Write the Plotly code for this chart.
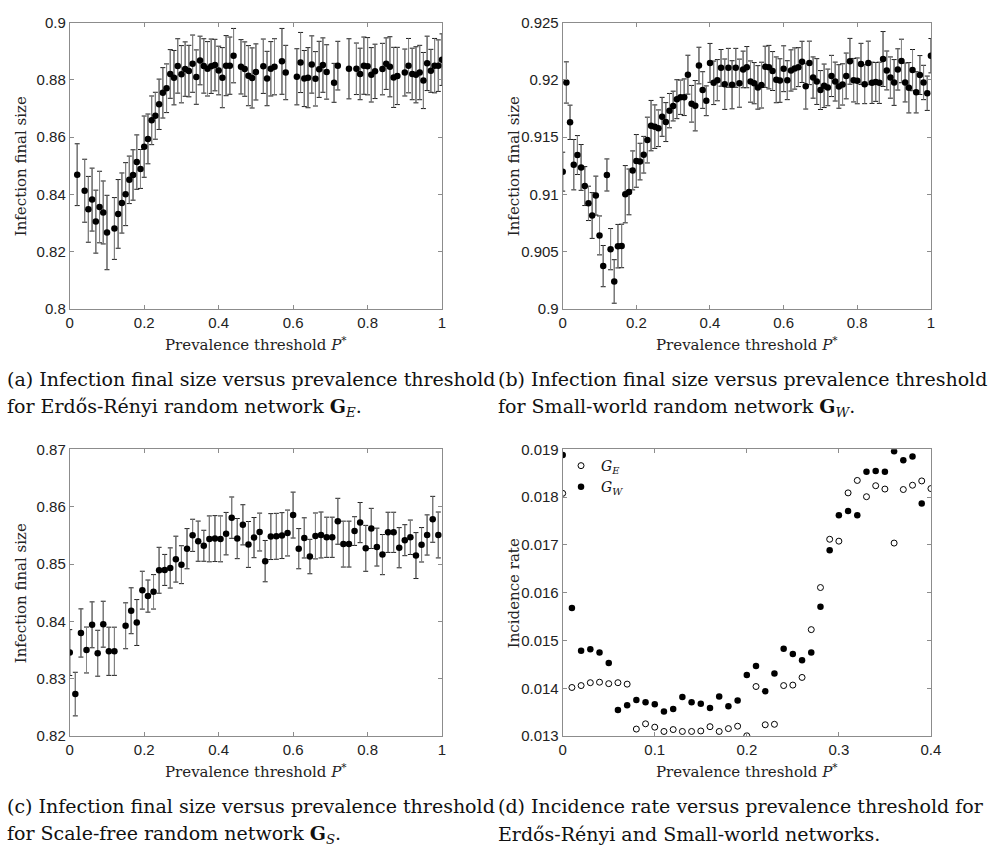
import plotly.graph_objects as go

# ---------------- data ----------------
# (a) Erdos-Renyi
xa = [0.02, 0.04, 0.05, 0.06, 0.07, 0.08, 0.09, 0.10, 0.12, 0.13, 0.14, 0.15, 0.16, 0.17, 0.18, 0.19,
      0.20, 0.21, 0.22, 0.23, 0.24, 0.25, 0.26, 0.27, 0.28, 0.29, 0.30, 0.31, 0.32, 0.33, 0.34, 0.35,
      0.36, 0.37, 0.38, 0.39, 0.40, 0.41, 0.42, 0.43, 0.44, 0.46, 0.47, 0.48, 0.49, 0.50, 0.52, 0.53,
      0.54, 0.55, 0.57, 0.58, 0.61, 0.62, 0.63, 0.64, 0.65, 0.66, 0.67, 0.68, 0.69, 0.71, 0.72, 0.75,
      0.77, 0.78, 0.79, 0.80, 0.81, 0.82, 0.84, 0.85, 0.86, 0.87, 0.88, 0.90, 0.91, 0.92, 0.93, 0.94,
      0.95, 0.96, 0.97, 0.98, 0.99, 1.00]
ya = [0.8469, 0.8413, 0.8348, 0.8382, 0.8305, 0.8356, 0.8337, 0.8267, 0.8281, 0.8332, 0.8370, 0.8401,
      0.8451, 0.8468, 0.8513, 0.8489, 0.8567, 0.8594, 0.8659, 0.8675, 0.8715, 0.8755, 0.8771, 0.8821,
      0.8808, 0.8849, 0.8820, 0.8838, 0.8831, 0.8857, 0.8810, 0.8868, 0.8849, 0.8839, 0.8848, 0.8852,
      0.8833, 0.8808, 0.8850, 0.8850, 0.8885, 0.8846, 0.8838, 0.8815, 0.8807, 0.8828, 0.8848, 0.8805,
      0.8839, 0.8846, 0.8865, 0.8826, 0.8811, 0.8861, 0.8805, 0.8808, 0.8854, 0.8804, 0.8837, 0.8852,
      0.8828, 0.8790, 0.8850, 0.8839, 0.8839, 0.8821, 0.8850, 0.8848, 0.8818, 0.8830, 0.8838, 0.8857,
      0.8846, 0.8809, 0.8814, 0.8826, 0.8850, 0.8821, 0.8818, 0.8826, 0.8798, 0.8858, 0.8832, 0.8850,
      0.8850, 0.8871]
ea = [0.0108, 0.0110, 0.0115, 0.0110, 0.0110, 0.0125, 0.0110, 0.0130, 0.0108, 0.0120, 0.0105, 0.0110,
      0.0083, 0.0088, 0.0095, 0.0068, 0.0107, 0.0087, 0.0085, 0.0082, 0.0088, 0.0088, 0.0085, 0.0085,
      0.0095, 0.0095, 0.0100, 0.0095, 0.0090, 0.0100, 0.0095, 0.0085, 0.0095, 0.0095, 0.0095, 0.0090,
      0.0085, 0.0105, 0.0105, 0.0100, 0.0095, 0.0095, 0.0095, 0.0105, 0.0105, 0.0098, 0.0095, 0.0095,
      0.0095, 0.0098, 0.0115, 0.0095, 0.0098, 0.0105, 0.0098, 0.0105, 0.0100, 0.0095, 0.0098, 0.0095,
      0.0095, 0.0068, 0.0085, 0.0105, 0.0090, 0.0090, 0.0100, 0.0100, 0.0095, 0.0095, 0.0090, 0.0090,
      0.0105, 0.0105, 0.0100, 0.0082, 0.0095, 0.0090, 0.0098, 0.0095, 0.0098, 0.0095, 0.0075, 0.0095,
      0.0090, 0.0090]

# (b) Small-world
xb = [round(0.01 * i, 2) for i in range(101)]
yb = [0.91199, 0.91978, 0.91630, 0.91260, 0.91344, 0.91236, 0.91073, 0.90922, 0.90816, 0.90990,
      0.90642, 0.90374, 0.91170, 0.90522, 0.90240, 0.90548, 0.90550, 0.91002, 0.91022, 0.91210,
      0.91293, 0.91287, 0.91347, 0.91475, 0.91601, 0.91592, 0.91578, 0.91678, 0.91632, 0.91732,
      0.91772, 0.91832, 0.91849, 0.91849, 0.92046, 0.91792, 0.91775, 0.92126, 0.91912, 0.91818,
      0.92149, 0.91975, 0.91998, 0.92106, 0.91963, 0.92106, 0.91958, 0.92106, 0.91972, 0.92092,
      0.92112, 0.91986, 0.91972, 0.91935, 0.91955, 0.92115, 0.92112, 0.92078, 0.92001, 0.91995,
      0.92098, 0.91998, 0.92083, 0.92100, 0.92112, 0.92158, 0.91946, 0.92149, 0.92021, 0.91986,
      0.91912, 0.91949, 0.91935, 0.92035, 0.91986, 0.91943, 0.91961, 0.92035, 0.92163, 0.91998,
      0.91992, 0.92140, 0.91963, 0.92149, 0.91975, 0.91983, 0.91975, 0.92183, 0.92083, 0.92021,
      0.91978, 0.92092, 0.92166, 0.91978, 0.91932, 0.92086, 0.91892, 0.92043, 0.91978, 0.91884,
      0.92212]
eb = [0.0017, 0.0018, 0.0015, 0.0022, 0.0017, 0.0020, 0.0017, 0.0015, 0.0020, 0.0017,
      0.0017, 0.0018, 0.0014, 0.0018, 0.0019, 0.0019, 0.0019, 0.0025, 0.0020, 0.0017,
      0.0023, 0.0016, 0.0016, 0.0020, 0.0022, 0.0019, 0.0016, 0.0017, 0.0017, 0.0015,
      0.0013, 0.0017, 0.0015, 0.0016, 0.0017, 0.0016, 0.0022, 0.0016, 0.0016, 0.0013,
      0.0017, 0.0019, 0.0018, 0.0016, 0.0022, 0.0017, 0.0021, 0.0017, 0.0021, 0.0016,
      0.0018, 0.0018, 0.0018, 0.0019, 0.0020, 0.0018, 0.0019, 0.0017, 0.0020, 0.0019,
      0.0020, 0.0017, 0.0018, 0.0018, 0.0017, 0.0018, 0.0020, 0.0019, 0.0018, 0.0020,
      0.0017, 0.0019, 0.0016, 0.0018, 0.0017, 0.0019, 0.0018, 0.0020, 0.0020, 0.0019,
      0.0020, 0.0018, 0.0017, 0.0019, 0.0018, 0.0017, 0.0018, 0.0024, 0.0017, 0.0018,
      0.0020, 0.0018, 0.0019, 0.0017, 0.0022, 0.0018, 0.0018, 0.0017, 0.0015, 0.0015,
      0.0015]

# (c) Scale-free
kc = [k for k in range(67) if k != 9]
xc = [round(0.015 * k, 3) for k in kc]
yc = [0.83458, 0.82735, 0.83800, 0.83503, 0.83942, 0.83447, 0.83953, 0.83481, 0.83481,
      0.83925, 0.84187, 0.83982, 0.84546, 0.84443, 0.84517, 0.84893, 0.84899, 0.84933, 0.85087,
      0.84990, 0.85269, 0.85502, 0.85400, 0.85320, 0.85440, 0.85445, 0.85440, 0.85531, 0.85810,
      0.85445, 0.85685, 0.85343, 0.85462, 0.85559, 0.85052, 0.85480, 0.85485, 0.85497, 0.85542,
      0.85855, 0.85269, 0.85457, 0.85132, 0.85491, 0.85508, 0.85468, 0.85468, 0.85747, 0.85349,
      0.85349, 0.85576, 0.85724, 0.85275, 0.85622, 0.85297, 0.85166, 0.85554, 0.85554, 0.85286,
      0.85417, 0.85468, 0.85149, 0.85337, 0.85508, 0.85781, 0.85508]
ec = [0.0040, 0.0038, 0.0042, 0.0040, 0.0040, 0.0040, 0.0040, 0.0042, 0.0042,
      0.0040, 0.0040, 0.0040, 0.0033, 0.0028, 0.0030, 0.0040, 0.0027, 0.0035, 0.0040,
      0.0033, 0.0035, 0.0028, 0.0035, 0.0027, 0.0040, 0.0040, 0.0040, 0.0037, 0.0036,
      0.0035, 0.0035, 0.0040, 0.0035, 0.0033, 0.0036, 0.0040, 0.0040, 0.0040, 0.0040,
      0.0040, 0.0035, 0.0035, 0.0030, 0.0040, 0.0040, 0.0035, 0.0035, 0.0040, 0.0040,
      0.0040, 0.0025, 0.0035, 0.0040, 0.0035, 0.0033, 0.0035, 0.0035, 0.0035, 0.0035,
      0.0027, 0.0030, 0.0040, 0.0030, 0.0035, 0.0040, 0.0040]

# (d) Incidence rate
xd_e = [0.00, 0.01, 0.02, 0.03, 0.04, 0.05, 0.06, 0.07, 0.08, 0.09, 0.10, 0.11, 0.12, 0.13, 0.14,
        0.15, 0.16, 0.17, 0.18, 0.19, 0.20, 0.21, 0.22, 0.23, 0.24, 0.25, 0.26, 0.27, 0.28, 0.29,
        0.30, 0.31, 0.32, 0.33, 0.34, 0.35, 0.36, 0.37, 0.38, 0.39, 0.40]
yd_e = [0.01808, 0.01402, 0.01406, 0.01412, 0.01413, 0.01410, 0.01412, 0.01409, 0.01315, 0.01326,
        0.01319, 0.01310, 0.01314, 0.01310, 0.01310, 0.01311, 0.01320, 0.01310, 0.01316, 0.01321,
        0.01301, 0.01404, 0.01324, 0.01325, 0.01406, 0.01407, 0.01423, 0.01523, 0.01611, 0.01712,
        0.01708, 0.01809, 0.01835, 0.01801, 0.01824, 0.01817, 0.01704, 0.01816, 0.01825, 0.01834,
        0.01818]
xd_w = [0.00, 0.01, 0.02, 0.03, 0.04, 0.05, 0.06, 0.07, 0.08, 0.09, 0.10, 0.11, 0.12, 0.13, 0.14,
        0.15, 0.16, 0.17, 0.18, 0.19, 0.20, 0.21, 0.22, 0.23, 0.24, 0.25, 0.26, 0.27, 0.28, 0.29,
        0.30, 0.31, 0.32, 0.33, 0.34, 0.35, 0.36, 0.37, 0.38, 0.39]
yd_w = [0.01888, 0.01568, 0.01479, 0.01482, 0.01475, 0.01453, 0.01355, 0.01365, 0.01376, 0.01371,
        0.01367, 0.01352, 0.01357, 0.01382, 0.01371, 0.01368, 0.01359, 0.01383, 0.01363, 0.01375,
        0.01428, 0.01447, 0.01394, 0.01431, 0.01483, 0.01472, 0.01459, 0.01475, 0.01571, 0.01689,
        0.01762, 0.01771, 0.01762, 0.01853, 0.01855, 0.01853, 0.01896, 0.01877, 0.01885, 0.01787]

# tick labels
x_ticks_full = [0, 0.2, 0.4, 0.6, 0.8, 1]
x_ticktext_full = ["0", "0.2", "0.4", "0.6", "0.8", "1"]
x_ticks_d = [0, 0.1, 0.2, 0.3, 0.4]
x_ticktext_d = ["0", "0.1", "0.2", "0.3", "0.4"]
ya_ticks = [0.8, 0.82, 0.84, 0.86, 0.88, 0.9]
ya_text = ["0.8", "0.82", "0.84", "0.86", "0.88", "0.9"]
yb_ticks = [0.9, 0.905, 0.91, 0.915, 0.92, 0.925]
yb_text = ["0.9", "0.905", "0.91", "0.915", "0.92", "0.925"]
yc_ticks = [0.82, 0.83, 0.84, 0.85, 0.86, 0.87]
yc_text = ["0.82", "0.83", "0.84", "0.85", "0.86", "0.87"]
yd_ticks = [0.013, 0.014, 0.015, 0.016, 0.017, 0.018, 0.019]
yd_text = ["0.013", "0.014", "0.015", "0.016", "0.017", "0.018", "0.019"]

# ---------------- figure ----------------
W, H = 992, 855
fig = go.Figure()

def px_x(p):
    return p / W

def px_y(p):
    return (H - p) / H

LEFT = [px_x(66.7), px_x(444.3)]
RIGHT = [px_x(566.7), px_x(940.2)]
TOP = [px_y(306), px_y(14)]
BOT = [px_y(742), px_y(449.3)]

CAP = "#1a1a1a"
STEM = "#8a8a8a"

def add_err(x, y, e, xa_, ya_):
    # caps (dark)
    fig.add_trace(go.Scatter(x=x, y=y, mode="markers", xaxis=xa_, yaxis=ya_,
                             marker=dict(size=2, opacity=0), showlegend=False, hoverinfo="skip",
                             error_y=dict(type="data", array=e, visible=True, color=CAP,
                                          thickness=1, width=2.5)))
    # stems (gray) + markers
    fig.add_trace(go.Scatter(x=x, y=y, mode="markers", xaxis=xa_, yaxis=ya_,
                             marker=dict(size=6.5, color="black"), showlegend=False,
                             error_y=dict(type="data", array=e, visible=True, color=STEM,
                                          thickness=1, width=0)))

add_err(xa, ya, ea, "x", "y")
add_err(xb, yb, eb, "x2", "y2")
add_err(xc, yc, ec, "x3", "y3")

fig.add_trace(go.Scatter(x=xd_e, y=yd_e, mode="markers", xaxis="x4", yaxis="y4",
                         name="<i>G</i><sub><i>E</i></sub>",
                         marker=dict(size=6, color="white", line=dict(color="black", width=1))))
fig.add_trace(go.Scatter(x=xd_w, y=yd_w, mode="markers", xaxis="x4", yaxis="y4",
                         name="<i>G</i><sub><i>W</i></sub>",
                         marker=dict(size=6.5, color="black")))

AX = dict(showline=True, linecolor="#8c8c8c", linewidth=1, mirror="ticks", ticks="inside",
          ticklen=4, tickcolor="#8c8c8c", showgrid=False, zeroline=False,
          tickfont=dict(family="Liberation Sans, Arial", size=15, color="#222222"))

fig.update_layout(
    width=W, height=H, margin=dict(l=0, r=0, t=0, b=0),
    paper_bgcolor="white", plot_bgcolor="white",
    xaxis=dict(AX, domain=LEFT, anchor="y", range=[0, 1], tickvals=x_ticks_full, ticktext=x_ticktext_full),
    yaxis=dict(AX, domain=TOP, anchor="x", range=[0.8, 0.9], tickvals=ya_ticks, ticktext=ya_text),
    xaxis2=dict(AX, domain=RIGHT, anchor="y2", range=[0, 1], tickvals=x_ticks_full, ticktext=x_ticktext_full),
    yaxis2=dict(AX, domain=TOP, anchor="x2", range=[0.9, 0.925], tickvals=yb_ticks, ticktext=yb_text),
    xaxis3=dict(AX, domain=LEFT, anchor="y3", range=[0, 1], tickvals=x_ticks_full, ticktext=x_ticktext_full),
    yaxis3=dict(AX, domain=BOT, anchor="x3", range=[0.82, 0.87], tickvals=yc_ticks, ticktext=yc_text),
    xaxis4=dict(AX, domain=RIGHT, anchor="y4", range=[0, 0.4], tickvals=x_ticks_d, ticktext=x_ticktext_d),
    yaxis4=dict(AX, domain=BOT, anchor="x4", range=[0.013, 0.019], tickvals=yd_ticks, ticktext=yd_text),
    showlegend=True,
    legend=dict(x=px_x(565), y=px_y(450), xanchor="left", yanchor="top",
                bgcolor="rgba(0,0,0,0)", borderwidth=0, tracegroupgap=0,
                font=dict(family="DejaVu Serif", size=14, color="#111111")),
)

SERIF = "DejaVu Serif"
ann = []
# axis titles
for xd_, yc_ in [(LEFT, 341.7), (RIGHT, 341.7), (LEFT, 777), (RIGHT, 777)]:
    ann.append(dict(x=(xd_[0] + xd_[1]) / 2, y=px_y(yc_), xref="paper", yref="paper",
                    text="Prevalence threshold <i>P</i><sup>*</sup>", showarrow=False,
                    xanchor="center", yanchor="middle",
                    font=dict(family=SERIF, size=15, color="#222222")))
for xp, yd_, label in [(16.7, TOP, "Infection final size"), (516.7, TOP, "Infection final size"),
                       (16.7, BOT, "Infection final size"), (516.7, BOT, "Incidence rate")]:
    ann.append(dict(x=px_x(xp), y=(yd_[0] + yd_[1]) / 2, xref="paper", yref="paper",
                    text=label, textangle=-90, showarrow=False,
                    xanchor="center", yanchor="middle",
                    font=dict(family=SERIF, size=15, color="#222222")))
# captions
captions = [
    (1, 378, "(a) Infection final size versus prevalence threshold"),
    (1, 407, "for Erdős-Rényi random network <b>G</b><sub><i>E</i></sub>."),
    (499, 378, "(b) Infection final size versus prevalence threshold"),
    (499, 407, "for Small-world random network <b>G</b><sub><i>W</i></sub>."),
    (1, 813, "(c) Infection final size versus prevalence threshold"),
    (1, 842, "for Scale-free random network <b>G</b><sub><i>S</i></sub>."),
    (499, 813, "(d) Incidence rate versus prevalence threshold for"),
    (499, 842, "Erdős-Rényi and Small-world networks."),
]
for xp, yp, t in captions:
    ann.append(dict(x=px_x(xp), y=px_y(yp), xref="paper", yref="paper", text=t, showarrow=False,
                    xanchor="left", yanchor="middle", align="left",
                    font=dict(family=SERIF, size=19, color="#111111")))
fig.update_layout(annotations=ann)

fig.write_html("out.html")
